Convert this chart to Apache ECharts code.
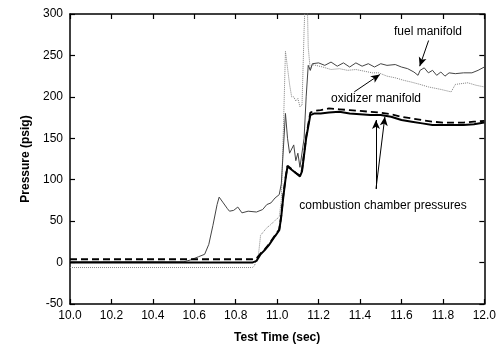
<!DOCTYPE html>
<html>
<head>
<meta charset="utf-8">
<script src="https://cdn.jsdelivr.net/npm/echarts@6/dist/echarts.min.js"></script>
<style>html,body{margin:0;padding:0;background:#fff;}#c{width:499px;height:349px;}</style>
</head>
<body>
<div id="c"></div>
<script>
const xTicks = [10.0, 10.2, 10.4, 10.6, 10.8, 11.0, 11.2, 11.4, 11.6, 11.8, 12.0];
const yTicks = [-50, 0, 50, 100, 150, 200, 250, 300];

const fuelManifold = [
  [10.00,1],[10.55,1],[10.58,3],[10.62,7],[10.65,10],[10.67,22],[10.69,45],[10.71,70],[10.72,79],
  [10.74,72],[10.76,65],[10.77,62],[10.79,63],[10.81,67],[10.83,60],[10.86,62],[10.90,61],[10.93,64],
  [10.95,70],[10.97,72],[10.99,78],[11.01,82],[11.02,95],[11.04,180],[11.05,150],[11.06,132],[11.08,142],
  [11.09,123],[11.10,132],[11.11,115],[11.13,150],[11.14,200],[11.15,238],[11.16,232],[11.17,240],
  [11.20,241],[11.23,238],[11.26,242],[11.29,237],[11.32,241],[11.35,236],[11.38,241],[11.41,237],
  [11.44,240],[11.47,236],[11.50,240],[11.53,238],[11.57,239],[11.60,236],[11.63,234],[11.66,230],
  [11.68,226],[11.69,232],[11.71,235],[11.73,229],[11.75,232],[11.77,226],[11.79,230],[11.81,225],
  [11.83,229],[11.86,228],[11.90,229],[11.94,229],[11.97,232],[12.00,236]
];
const oxidizerManifold = [
  [10.00,-6],[10.88,-6],[10.89,-4],[10.91,10],[10.92,33],[10.95,42],[10.97,46],[10.99,51],[11.01,55],
  [11.02,75],[11.03,160],[11.04,255],[11.05,235],[11.06,215],[11.07,200],[11.08,200],[11.09,195],
  [11.10,198],[11.11,188],[11.12,190],[11.13,280],[11.135,316],[11.145,320],[11.15,260],[11.16,232],
  [11.17,239],[11.22,236],[11.26,233],[11.30,234],[11.34,232],[11.38,233],[11.42,231],[11.46,229],
  [11.49,229],[11.53,225],[11.57,223],[11.61,220],[11.645,218],[11.69,215],[11.73,212],[11.79,209],
  [11.84,206],[11.86,215],[11.92,217],[11.96,214],[12.00,212]
];
const chamberPressureA = [
  [10.00,0],[10.88,0],[10.90,2],[10.92,10],[10.94,15],[10.96,21],[10.99,32],[11.01,39],[11.02,56],
  [11.03,80],[11.04,100],[11.05,116],[11.07,112],[11.09,108],[11.11,104],[11.12,110],[11.14,150],
  [11.16,178],[11.18,180],[11.21,180],[11.25,181],[11.30,182],[11.35,180],[11.40,179],[11.45,178],
  [11.50,178],[11.55,176],[11.60,172],[11.65,170],[11.70,168],[11.75,166],[11.80,166],[11.85,166],
  [11.90,166],[11.95,167],[12.00,169]
];
const chamberPressureB = [
  [10.00,4],[10.88,4],[10.90,5],[10.92,11],[10.94,16],[10.96,22],[10.99,33],[11.01,40],[11.02,57],
  [11.03,82],[11.04,102],[11.05,117],[11.07,113],[11.09,108],[11.11,105],[11.12,112],[11.14,152],
  [11.16,181],[11.18,183],[11.21,184],[11.25,186],[11.30,185],[11.35,184],[11.40,183],[11.45,182],
  [11.50,181],[11.55,179],[11.60,176],[11.65,174],[11.70,172],[11.75,170],[11.80,169],[11.85,169],
  [11.90,169],[11.95,170],[12.00,171]
];
const arrows = [
  [[11.731,268],[11.688,237]],
  [[11.372,206],[11.496,227]],
  [[11.477,89],[11.477,172]],
  [[11.477,89],[11.52,176]]
];
const labels = [
  {text:'fuel manifold', x:428, y:32},
  {text:'oxidizer manifold', x:376, y:99},
  {text:'combustion chamber pressures', x:383, y:206}
];

const FONT = 'Liberation Sans, Arial, sans-serif';
const chart = echarts.init(document.getElementById('c'), null, {renderer:'canvas'});
const axisCommon = {
  axisLine:{show:true, onZero:false, lineStyle:{color:'#000', width:1.5}},
  axisTick:{show:true, inside:true, length:5, lineStyle:{color:'#000', width:1.2}},
  splitLine:{show:false}
};
chart.setOption({
  animation:false,
  backgroundColor:'#fff',
  grid:{left:70, right:12, top:14, bottom:42, containLabel:false},
  xAxis:[
    Object.assign({type:'value', min:10, max:12, interval:0.2, position:'bottom',
      name:'Test Time (sec)', nameLocation:'middle', nameGap:28,
      nameTextStyle:{fontFamily:FONT, fontWeight:'bold', fontSize:12, color:'#000'},
      axisLabel:{fontFamily:FONT, fontSize:12, color:'#000', margin:6,
        formatter:v=>{const t=xTicks.find(k=>Math.abs(k-v)<1e-6);return t===undefined?'':t.toFixed(1);}}
    }, axisCommon),
    Object.assign({type:'value', min:10, max:12, interval:0.2, position:'top', axisLabel:{show:false}}, axisCommon)
  ],
  yAxis:[
    Object.assign({type:'value', min:-50, max:300, interval:50, position:'left',
      name:'Pressure (psig)', nameLocation:'middle', nameGap:37, nameRotate:90,
      nameTextStyle:{fontFamily:FONT, fontWeight:'bold', fontSize:12, color:'#000'},
      axisLabel:{fontFamily:FONT, fontSize:12, color:'#000', margin:7,
        formatter:v=>yTicks.includes(v)?String(v):''}
    }, axisCommon),
    Object.assign({type:'value', min:-50, max:300, interval:50, position:'right', axisLabel:{show:false}}, axisCommon)
  ],
  series:[
    {type:'line', data:oxidizerManifold, showSymbol:false, clip:true,
      lineStyle:{color:'#808080', width:1, type:'dotted'}},
    {type:'line', data:fuelManifold, showSymbol:false, clip:true,
      lineStyle:{color:'#444', width:1}},
    {type:'line', data:chamberPressureB, showSymbol:false, clip:true,
      lineStyle:{color:'#000', width:1.8, type:[7,4]}},
    {type:'line', data:chamberPressureA, showSymbol:false, clip:true,
      lineStyle:{color:'#000', width:2}},
    {type:'line', data:[], showSymbol:false,
      markLine:{silent:true, symbol:['none','arrow'], symbolSize:[6,9], label:{show:false},
        lineStyle:{color:'#000', width:1, type:'solid'},
        data:arrows.map(a=>[{coord:a[0]},{coord:a[1]}])}}
  ],
  graphic: labels.map(l=>({type:'text', x:l.x, y:l.y,
    style:{text:l.text, fontFamily:FONT, fontSize:12, fill:'#000', align:'center', verticalAlign:'middle'}}))
});
</script>
</body>
</html>
